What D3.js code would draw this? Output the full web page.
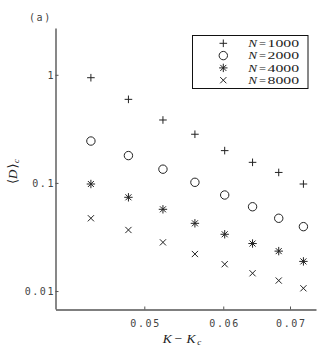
<!DOCTYPE html>
<html><head><meta charset="utf-8">
<script src="https://cdn.jsdelivr.net/npm/d3@7"></script>
<style>body{margin:0;background:#fff}</style>
</head><body>
<svg id="c" width="327" height="350"></svg>
<script>
// ---- data ----
const xValues = [0.0442, 0.0482, 0.0522, 0.0562, 0.0602, 0.0642, 0.0682, 0.0722];
const seriesN = [1000, 2000, 4000, 8000];
const d1000 = [0.940, 0.593, 0.382, 0.282, 0.199, 0.155, 0.125, 0.0977];
const d2000 = [0.244, 0.179, 0.134, 0.1013, 0.0773, 0.0602, 0.0471, 0.0394];
const d4000 = [0.0977, 0.0736, 0.0570, 0.0423, 0.0335, 0.0275, 0.0234, 0.0188];
const d8000 = [0.0471, 0.0367, 0.0282, 0.0220, 0.0177, 0.0146, 0.0125, 0.0106];
const xTicks = [0.05, 0.06, 0.07];
const xTickLabels = ["0.05", "0.06", "0.07"];
const yTicks = [1, 0.1, 0.01];
const yTickLabels = ["1", "0.1", "0.01"];

const seriesData = [d1000, d2000, d4000, d8000];
const markerKinds = ["plus", "circle", "star", "times"];

// ---- layout ----
const svg = d3.select("#c");
const x = d3.scaleLog().domain([0.04073, 0.07433]).range([55.5, 316]);
const y = d3.scaleLog().domain([0.00682, 2.71]).range([309, 28]);

const axisColor = "#555";
const tickFont = "'DejaVu Sans Mono', monospace";
const serif = "'Liberation Serif', 'DejaVu Serif', serif";

function markerPath(kind) {
  const p = d3.path();
  if (kind === "plus" || kind === "star") {
    const a = kind === "star" ? 4.2 : 3.8;
    p.moveTo(-a, 0); p.lineTo(a, 0);
    p.moveTo(0, -a); p.lineTo(0, a);
  }
  if (kind === "times" || kind === "star") {
    const b = kind === "star" ? 3.0 : 3.1;
    p.moveTo(-b, -b); p.lineTo(b, b);
    p.moveTo(-b, b); p.lineTo(b, -b);
  }
  if (kind === "circle") {
    p.moveTo(4.2, 0); p.arc(0, 0, 4.2, 0, 2 * Math.PI);
  }
  return p.toString();
}

// axes
const yAxis = d3.axisLeft(y).tickValues(yTicks)
  .tickFormat((d, i) => yTickLabels[i]).tickSize(-3).tickSizeOuter(0).tickPadding(2);
const xAxis = d3.axisBottom(x).tickValues(xTicks)
  .tickFormat((d, i) => xTickLabels[i]).tickSize(-3).tickSizeOuter(0).tickPadding(10);

const gy = svg.append("g").attr("transform", "translate(55.5,0)").call(yAxis);
const gx = svg.append("g").attr("transform", "translate(0,309.5)").call(xAxis);
[gx, gy].forEach(g => {
  g.select(".domain").attr("stroke", axisColor).attr("stroke-width", 1.4);
  g.selectAll(".tick line").attr("stroke", axisColor).attr("stroke-width", 1);
  g.selectAll(".tick text").attr("fill", "#444").attr("font-family", tickFont)
    .attr("font-size", 10).attr("letter-spacing", "1.6px");
});
gy.selectAll(".tick text").attr("dx", "1.6px");
gx.selectAll(".tick text").attr("dx", "0.8px");

// panel label
svg.append("text").attr("x", 29).attr("y", 21).text("(a)")
  .attr("font-family", tickFont).attr("font-size", 10).attr("letter-spacing", "1.6px").attr("fill", "#444");

// helper for composed math labels (separate text pieces side by side)
function piece(g, px, py, str, opts) {
  const t = g.append("text").attr("x", px).attr("y", py).text(str)
    .attr("font-family", serif).attr("font-size", opts.size || 13.5).attr("fill", "#222");
  if (opts.italic) t.attr("font-style", "italic");
  return t;
}

// x axis title: K − K_c
const gxl = svg.append("g");
piece(gxl, 162.7, 342.5, "K", {italic: true});
piece(gxl, 174.5, 342.5, "\u2212", {});
piece(gxl, 186.5, 342.5, "K", {italic: true});
piece(gxl, 197.2, 345, "c", {italic: true, size: 9});

// y axis title: ⟨D⟩_c, rotated
const gyl = svg.append("g").attr("transform", "translate(16.5,184) rotate(-90)");
piece(gyl, 0, 0, "\u27E8", {size: 13});
piece(gyl, 5, 0, "D", {italic: true, size: 13});
piece(gyl, 15.5, 0, "\u27E9", {size: 13});
piece(gyl, 21, 2.5, "c", {italic: true, size: 8.5});

// data markers
seriesData.forEach((vals, si) => {
  svg.append("g").selectAll("path").data(vals).join("path")
    .attr("transform", (d, i) => `translate(${x(xValues[i])},${y(d)})`)
    .attr("d", markerPath(markerKinds[si]))
    .attr("fill", "none").attr("stroke", "#222").attr("stroke-width", 1);
});

// legend
const lg = svg.append("g");
lg.append("rect").attr("x", 192.5).attr("y", 35.5).attr("width", 115.5).attr("height", 53)
  .attr("fill", "#fff").attr("stroke", "#111").attr("stroke-width", 1);
const rowY = [43.3, 55.6, 67.9, 80.2];
seriesN.forEach((n, i) => {
  lg.append("path").attr("transform", `translate(223.3,${rowY[i]})`)
    .attr("d", markerPath(markerKinds[i])).attr("fill", "none").attr("stroke", "#222").attr("stroke-width", 1);
  const by = rowY[i] + 3.8;
  piece(lg, 248.3, by, "N", {italic: true, size: 10.5}).attr("textLength", 8.8).attr("lengthAdjust", "spacingAndGlyphs");
  piece(lg, 259, by, "=", {size: 10.5}).attr("textLength", 7).attr("lengthAdjust", "spacingAndGlyphs");
  piece(lg, 267.5, by, String(n), {size: 10.5}).attr("textLength", 31.5).attr("lengthAdjust", "spacingAndGlyphs");
});
</script>
</body></html>
